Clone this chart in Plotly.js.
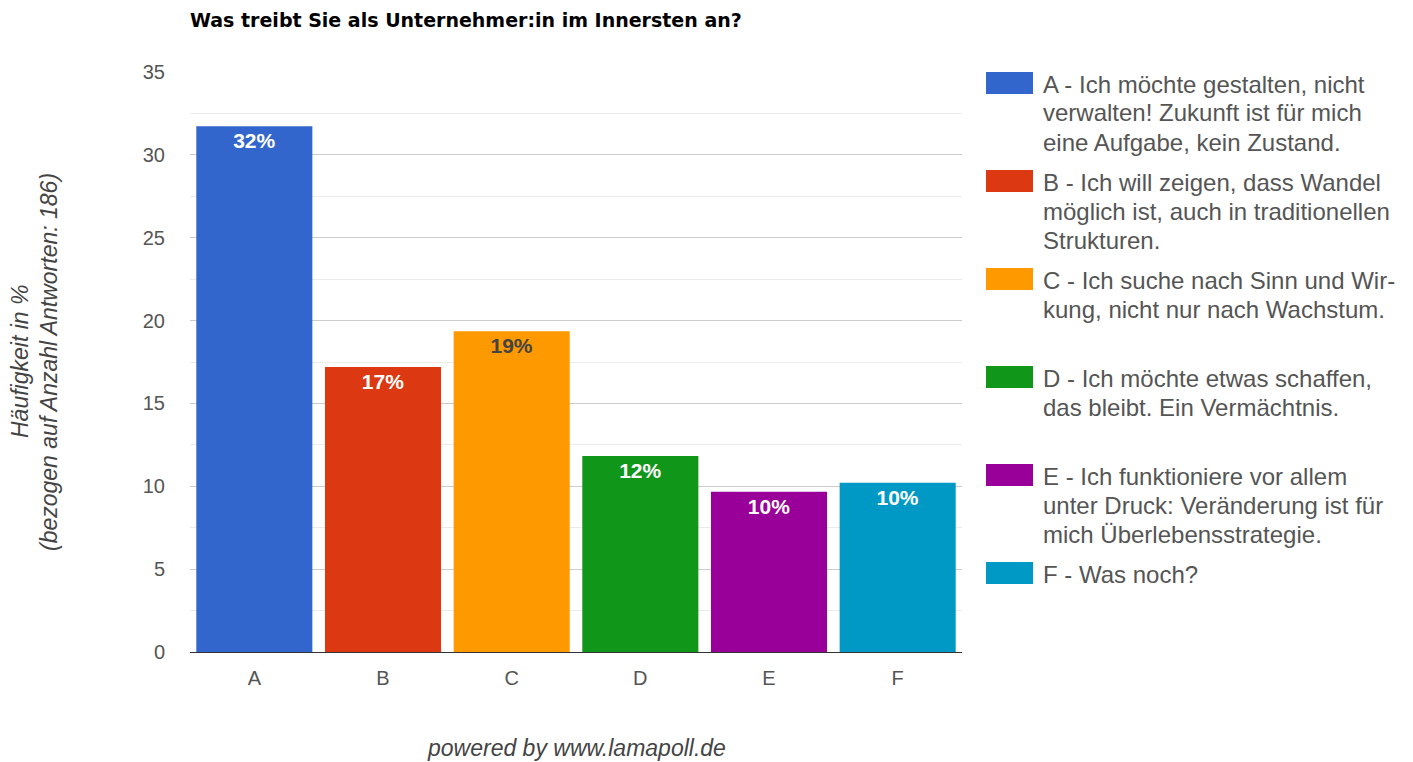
<!DOCTYPE html>
<html>
<head>
<meta charset="utf-8">
<script src="https://cdn.plot.ly/plotly-3.0.1.min.js"></script>
<style>
  html, body { margin: 0; padding: 0; background: #fff; }
  #chart { width: 1413px; height: 762px; }
</style>
</head>
<body>
<div id="chart"></div>
<script>
// Survey answers (n = 186), share in percent per option
const categories = ['A', 'B', 'C', 'D', 'E', 'F'];
const counts = [59, 32, 36, 22, 18, 19];
const totalAnswers = 186;
const shares = counts.map(c => c / totalAnswers * 100);
const barColors = ['#3366cc', '#dc3912', '#ff9900', '#109618', '#990099', '#0099c6'];
const labelColors = ['#ffffff', '#ffffff', '#444444', '#ffffff', '#ffffff', '#ffffff'];
const legendLines = [
  ['A - Ich möchte gestalten, nicht', 'verwalten! Zukunft ist für mich', 'eine Aufgabe, kein Zustand.'],
  ['B - Ich will zeigen, dass Wandel', 'möglich ist, auch in traditionellen', 'Strukturen.'],
  ['C - Ich suche nach Sinn und Wir-', 'kung, nicht nur nach Wachstum.'],
  ['D - Ich möchte etwas schaffen,', 'das bleibt. Ein Vermächtnis.'],
  ['E - Ich funktioniere vor allem', 'unter Druck: Veränderung ist für', 'mich Überlebensstrategie.'],
  ['F - Was noch?']
];
const chartTitle = 'Was treibt Sie als Unternehmer:in im Innersten an?';
const yTitleLines = ['Häufigkeit in %', '(bezogen auf Anzahl Antworten: 186)'];
const footer = 'powered by www.lamapoll.de';

// plot area in pixels
const W = 1413, H = 762;
const PL = 190, PR = 962, PT = 72, PB = 652;
const px = x => (x - PL) / (PR - PL);
const py = y => (PB - y) / (PB - PT);

const FONT = 'Liberation Sans, Arial, sans-serif';

const traces = categories.map((cat, i) => ({
  type: 'bar',
  x: [cat],
  y: [shares[i]],
  name: cat,
  marker: { color: barColors[i], line: { width: 0 } },
  text: [Math.round(shares[i]) + '%'],
  textposition: 'inside',
  insidetextanchor: 'end',
  textangle: 0,
  insidetextfont: { family: FONT, size: 21, color: labelColors[i], weight: 'bold' },
  hoverinfo: 'x+y',
  showlegend: false,
  cliponaxis: false
}));

const annotations = [];
const shapes = [];

// legend: swatch + wrapped text lines
const legendTop = [72, 170, 268, 366, 464, 562];
legendLines.forEach((lines, i) => {
  const top = legendTop[i];
  shapes.push({
    type: 'rect', xref: 'paper', yref: 'paper',
    x0: px(986), x1: px(1033), y0: py(top), y1: py(top + 22),
    fillcolor: barColors[i], line: { width: 0 }
  });
  lines.forEach((line, j) => {
    annotations.push({
      xref: 'paper', yref: 'paper', x: px(1041), y: py(top + 12 + j * 29),
      xanchor: 'left', yanchor: 'middle', showarrow: false,
      text: line, font: { family: FONT, size: 24, color: '#555555' }
    });
  });
});

// y axis title (two rotated lines)
yTitleLines.forEach((line, j) => {
  annotations.push({
    xref: 'paper', yref: 'paper', x: px(20 + j * 29), y: py(362),
    xanchor: 'center', yanchor: 'middle', showarrow: false, textangle: -90,
    text: '<i>' + line + '</i>',
    font: { family: FONT, size: 23, color: '#444444' }
  });
});

// footer
annotations.push({
  xref: 'paper', yref: 'paper', x: px(576), y: py(748),
  xanchor: 'center', yanchor: 'middle', showarrow: false,
  text: '<i>' + footer + '</i>',
  font: { family: FONT, size: 23, color: '#444444' }
});

const layout = {
  width: W, height: H,
  margin: { l: PL, r: W - PR, t: PT, b: H - PB, pad: 0 },
  paper_bgcolor: '#ffffff', plot_bgcolor: '#ffffff',
  title: {
    text: '<b>' + chartTitle + '</b>',
    xref: 'paper', x: 0, xanchor: 'left',
    yref: 'container', y: 1 - 20 / H, yanchor: 'middle',
    font: { family: 'DejaVu Sans, Verdana, sans-serif', size: 19, color: '#000000' }
  },
  barmode: 'overlay',
  bargap: 0.098,
  showlegend: false,
  xaxis: {
    type: 'category',
    categoryorder: 'array', categoryarray: categories,
    showgrid: false, zeroline: false,
    showline: true, linecolor: '#333333', linewidth: 1,
    ticks: '', ticklabelstandoff: 8,
    tickfont: { family: FONT, size: 20, color: '#555555' },
    fixedrange: true
  },
  yaxis: {
    range: [0, 35], dtick: 5, tick0: 0,
    showgrid: true, gridcolor: '#cccccc', gridwidth: 1,
    minor: { dtick: 2.5, showgrid: true, gridcolor: '#ebebeb', gridwidth: 1 },
    zeroline: false, showline: false,
    ticks: '', ticklabelstandoff: 24,
    tickfont: { family: FONT, size: 20, color: '#555555' },
    fixedrange: true
  },
  annotations: annotations,
  shapes: shapes
};

Plotly.newPlot('chart', traces, layout, { displayModeBar: false, staticPlot: true });
</script>
</body>
</html>
